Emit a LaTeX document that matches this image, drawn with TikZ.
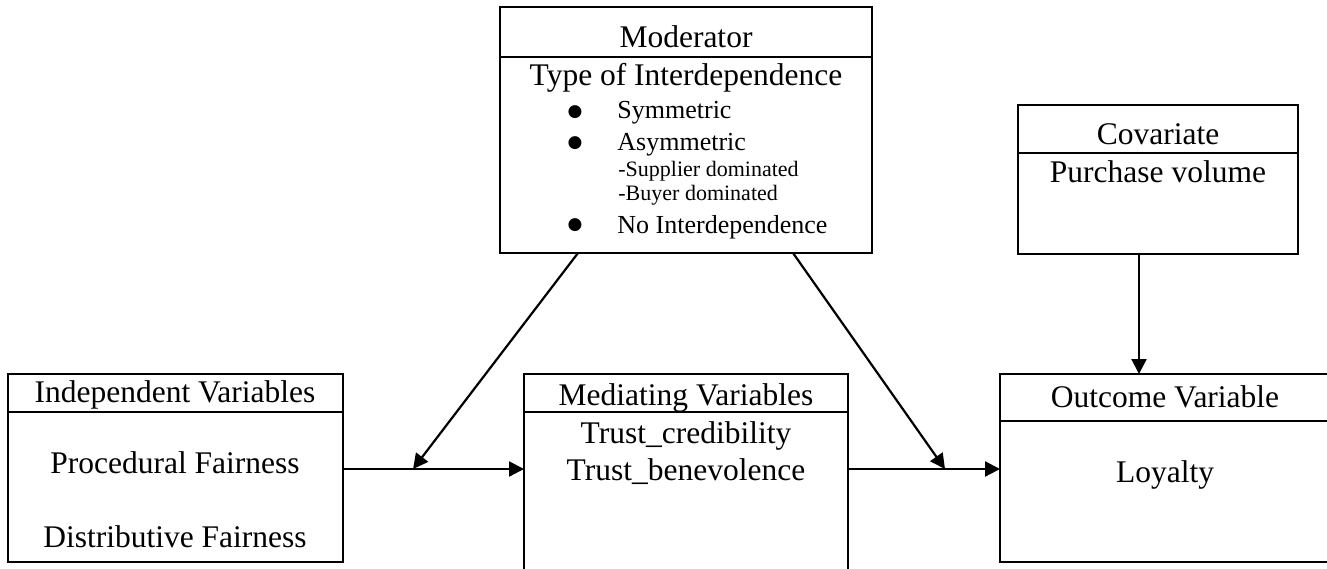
\documentclass[tikz,border=0pt]{standalone}
\usepackage{fontspec}
\setmainfont{Liberation Serif}
\newfontfamily\symfont{DejaVu Sans}
\usetikzlibrary{arrows.meta, positioning, calc}

\begin{document}
\begin{tikzpicture}[
    x=0.5pt, y=-0.5pt,
    node distance=0pt,
    head/.style={rectangle, draw, line width=0.85pt, outer sep=0pt, inner sep=0pt, anchor=north west},
    body/.style={rectangle, draw, line width=0.85pt, outer sep=0pt, inner sep=0pt},
    lbl/.style={inner sep=0pt, anchor=base, font=\fontsize{15.75}{18}\selectfont},
    item/.style={inner sep=0pt, anchor=base west, font=\fontsize{13}{15}\selectfont},
    bul/.style={inner sep=0pt, anchor=base, font=\symfont\fontsize{8.5}{10}\selectfont},
    subitem/.style={inner sep=0pt, anchor=base west, font=\fontsize{11}{13}\selectfont},
    arrow/.style={-{Triangle[length=7.5pt, width=7.5pt]}, line width=1.1pt}
]
\useasboundingbox (0,0) rectangle (1327,568);

% Moderator
\node[head, minimum width=186pt, minimum height=25pt] (modhead) at (500,7) {};
\node[body, below=of modhead, minimum width=186pt, minimum height=98pt] (modbody) {};
\node[lbl] (modtitle) at (686,47) {Moderator};
\node[lbl] (modtype) at (686,85) {Type of Interdependence};
\node[bul] (b1) at (575,116) {●};
\node[item] (sym) at (617,118) {Symmetric};
\node[bul] (b2) at (575,147) {●};
\node[item] (asym) at (617,150) {Asymmetric};
\node[subitem] (supp) at (618,176) {-Supplier dominated};
\node[subitem] (buyer) at (618,200) {-Buyer dominated};
\node[bul] (b3) at (575,229) {●};
\node[item] (noint) at (617,233) {No Interdependence};

% Covariate
\node[head, minimum width=140pt, minimum height=24pt] (covhead) at (1018,105) {};
\node[body, below=of covhead, minimum width=140pt, minimum height=50.5pt] (covbody) {};
\node[lbl] (covtitle) at (1158,144) {Covariate};
\node[lbl] (purch) at (1158,182) {Purchase volume};

% Independent variables
\node[head, minimum width=167.5pt, minimum height=19pt] (indhead) at (8,374) {};
\node[body, below=of indhead, minimum width=167.5pt, minimum height=75pt] (indbody) {};
\node[lbl] (indtitle) at (175,402) {Independent Variables};
\node[lbl] (proc) at (175,473) {Procedural Fairness};
\node[lbl] (distr) at (175,547) {Distributive Fairness};

% Mediating variables
\node[head, minimum width=162pt, minimum height=19pt] (medhead) at (524,374) {};
\node[body, below=of medhead, minimum width=162pt, minimum height=100pt] (medbody) {};
\node[lbl] (medtitle) at (686,405) {Mediating Variables};
\node[lbl] (cred) at (686,443) {Trust\_credibility};
\node[lbl] (benev) at (686,480) {Trust\_benevolence};

% Outcome variable
\node[head, minimum width=165pt, minimum height=23.5pt] (outhead) at (1000,374) {};
\node[body, below=of outhead, minimum width=165pt, minimum height=70.5pt] (outbody) {};
\node[lbl] (outtitle) at (1165,407) {Outcome Variable};
\node[lbl] (loyal) at (1165,482) {Loyalty};

% Arrows
\coordinate (a1) at ([yshift=9pt]indbody.east);
\coordinate (a3) at (a1 -| medbody.east);
\coordinate (j1) at ($(a1)!0.387!(a1 -| medbody.west)$);
\coordinate (j2) at ($(a3)!0.638!(a3 -| outbody.west)$);

\draw[arrow] (a1) -- (a1 -| medbody.west);
\draw[arrow] (a3) -- (a3 -| outbody.west);
\draw[arrow] ([xshift=39pt]modbody.south west) -- (j1);
\draw[arrow] ([xshift=-39.5pt]modbody.south east) -- (j2);
\draw[arrow] ([xshift=-9.5pt]covbody.south) -- ([xshift=-9.5pt]covbody.south |- outhead.north);

\end{tikzpicture}
\end{document}
